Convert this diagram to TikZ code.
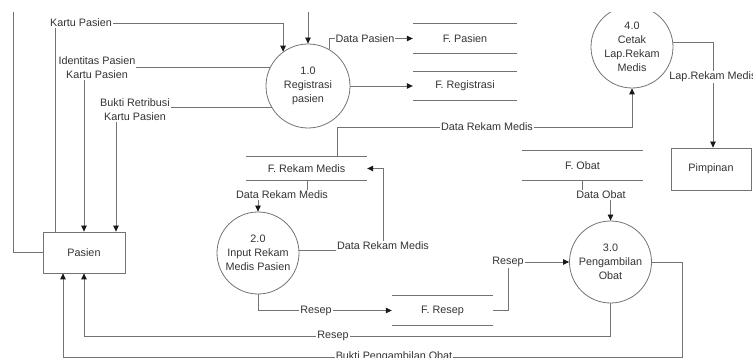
\documentclass[tikz,border=0pt]{standalone}
\usepackage{fontspec}
\setmainfont{Liberation Sans}
\usetikzlibrary{arrows.meta}

\begin{document}
\begin{tikzpicture}[x=1pt,y=-1pt,
  every node/.style={font=\fontsize{10.8}{14}\selectfont, text=black!80},
  proc/.style={circle, draw=black!55, line width=0.8pt, minimum size=#1, inner sep=0pt, align=center},
  entity/.style={rectangle, draw=black!55, line width=0.8pt, inner sep=0pt},
  store/.style={inner sep=0pt},
  storeline/.style={draw=black!55, line width=0.8pt},
  flow/.style={draw=black!55, line width=0.8pt, -{Triangle[length=6pt,width=5.5pt,color=black!90]}},
  lbl/.style={fill=white, inner sep=1pt, align=center}]

\useasboundingbox (0,0) rectangle (753,358);
\clip (0,13) rectangle (753,358);

% external entities
\node[entity, minimum width=82pt, minimum height=41pt] (pasien) at (84,252.5) {Pasien};
\node[entity, minimum width=80pt, minimum height=42pt] (pimpinan) at (711,169) {Pimpinan};

% processes
\node[proc=84pt] (p1) at (308,86) {1.0\\Registrasi\\pasien};
\node[proc=82pt] (p2) at (258,253) {2.0\\Input Rekam\\Medis Pasien};
\node[proc=82pt] (p3) at (610.5,262) {3.0\\Pengambilan\\Obat};
\node[proc=82pt] (p4) at (632,47) {4.0\\Cetak\\Lap.Rekam\\Medis};

% data stores
\node[store, minimum width=104pt, minimum height=29pt] (fpasien) at (465,38.5) {F. Pasien};
\node[store, minimum width=104pt, minimum height=28pt] (freg) at (465,86) {F. Registrasi};
\node[store, minimum width=121pt, minimum height=23pt] (frekam) at (306.5,168.5) {F. Rekam Medis};
\node[store, minimum width=121pt, minimum height=29pt] (fobat) at (582.5,165.5) {F. Obat};
\node[store, minimum width=101pt, minimum height=29pt] (fresep) at (442.5,310.5) {F. Resep};
\foreach \s in {fpasien,freg,frekam,fobat,fresep}
  \draw[storeline] (\s.north west) -- (\s.north east) (\s.south west) -- (\s.south east);

% data flows
\draw[flow] (pasien.west) -- (13,0 |- pasien.west) -- (13,-10) -- (p1.north |- 0,-10) -- (p1.north);
\draw[flow] (55,0 |- pasien.north) -- (55,23) -- (p1.126.5 |- 0,23) -- (p1.126.5);
\draw[flow] (p1.154.6) -- (84,0 |- p1.154.6) -- (84,0 |- pasien.north);
\draw[flow] (p1.211.6) -- (116,0 |- p1.211.6) -- (116,0 |- pasien.north);
\draw[flow] (p1.60) |- (fpasien.west);
\draw[flow] (p1.east) -- (freg.west);
\draw[flow] (337,0 |- frekam.north) -- (337,127) -- (p4.south |- 0,127) -- (p4.south);
\draw[flow] (307,0 |- frekam.south) -- (307,195) -- (p2.north |- 0,195) -- (p2.north);
\draw[flow] (p2.4) -- (383,0 |- p2.4) -- (383,0 |- frekam.east) -- (frekam.east);
\draw[flow] (p2.south) |- (fresep.west);
\draw[flow] (fresep.east) -- (508,0 |- fresep.east) -- (508,0 |- p3.west) -- (p3.west);
\draw[flow] (582,0 |- fobat.south) -- (582,195) -- (p3.north |- 0,195) -- (p3.north);
\draw[flow] (p3.south) -- (p3.south |- 0,336) -- (84,336) -- (84,0 |- pasien.south);
\draw[flow] (p3.east) -- (682,0 |- p3.east) -- (682,357) -- (63,357) -- (63,0 |- pasien.south);
\draw[flow] (p4.7) -- (713,0 |- p4.7) -- (713,0 |- pimpinan.north);

% flow labels
\node[lbl] (lkartu) at (81,23) {Kartu Pasien};
\node[lbl] (lident) at (97,68) {Identitas Pasien\\Kartu Pasien};
\node[lbl] (lbukti) at (135,110) {Bukti Retribusi\\Kartu Pasien};
\node[lbl] (ldpasien) at (365,38.5) {Data Pasien};
\node[lbl] (lrm4) at (487,127) {Data Rekam Medis};
\node[lbl] (lrm2) at (282,195) {Data Rekam Medis};
\node[lbl] (lrmback) at (383,246) {Data Rekam Medis};
\node[lbl] (lresep1) at (316,310.5) {Resep};
\node[lbl] (lresep2) at (508,262) {Resep};
\node[lbl] (lobat) at (601,195) {Data Obat};
\node[lbl] (lresep3) at (333,336) {Resep};
\node[lbl] (lbpo) at (394,357) {Bukti Pengambilan Obat};
\node[lbl] (llap) at (713,77) {Lap.Rekam Medis};
\end{tikzpicture}
\end{document}
